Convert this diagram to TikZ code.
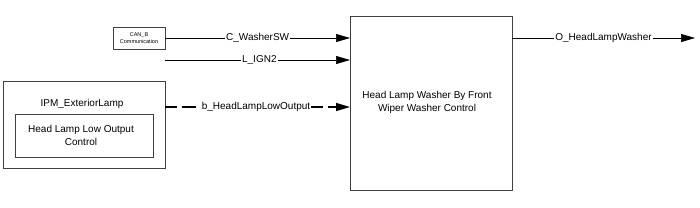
\documentclass[tikz,border=0pt]{standalone}
\usepackage{fontspec}
\setmainfont{Liberation Sans}
\usetikzlibrary{arrows.meta}
\begin{document}
\begin{tikzpicture}[x=1pt,y=-1pt,
  blk/.style={draw=black!75,line width=0.8pt,fill=white},
  sig/.style={draw=black,line width=0.7pt,-{Triangle[length=14pt,width=8pt]}},
  dsh/.style={draw=black,line width=1.2pt,dash pattern=on 12pt off 5pt on 14pt off 30pt},
  lbl/.style={fill=white,inner sep=1pt,font=\fontsize{10}{12}\selectfont},
  body/.style={font=\fontsize{10}{13}\selectfont,align=center}]
\useasboundingbox (0,0) rectangle (700,207);
% main block
\draw[blk] (350,16) rectangle (512,190);
\node[body] (main) at (427,102.5) {Head Lamp Washer By Front\\Wiper Washer Control};
\coordinate (mainC) at (350,38);
\coordinate (mainL) at (350,60);
\coordinate (mainB) at (350,107);
\coordinate (mainO) at (512,38);
% CAN_B
\node[blk,minimum width=52pt,minimum height=22pt,inner sep=0pt,align=center,font=\fontsize{5.5}{7}\selectfont] (can) at (139,38) {CAN\_B\\Communication};
\coordinate (ignS) at (165,60);
% IPM
\draw[blk] (3,81) rectangle (165,168);
\node[font=\fontsize{10}{12}\selectfont] (ipm) at (82,104) {IPM\_ExteriorLamp};
\draw[blk] (15,114) rectangle (153,157);
\node[body] (hl) at (81,135.5) {Head Lamp Low Output\\Control};
\coordinate (ipmO) at (165,107);
% output end
\coordinate (outE) at (695,38);
% connectors
\draw[sig] (can.east |- mainC) -- node[lbl,pos=0.5]{C\_WasherSW} (mainC);
\draw[sig] (ignS) -- node[lbl,pos=0.51]{L\_IGN2} (mainL);
\node[lbl] (bl) at (256,107) {b\_HeadLampLowOutput};
\draw[dsh] (ipmO) -- (bl.west);
\draw[dsh,-{Triangle[length=14pt,width=8pt]}] (bl.east) -- (mainB);
\draw[sig] (mainO) -- node[lbl,pos=0.5]{O\_HeadLampWasher} (outE);
\end{tikzpicture}
\end{document}
